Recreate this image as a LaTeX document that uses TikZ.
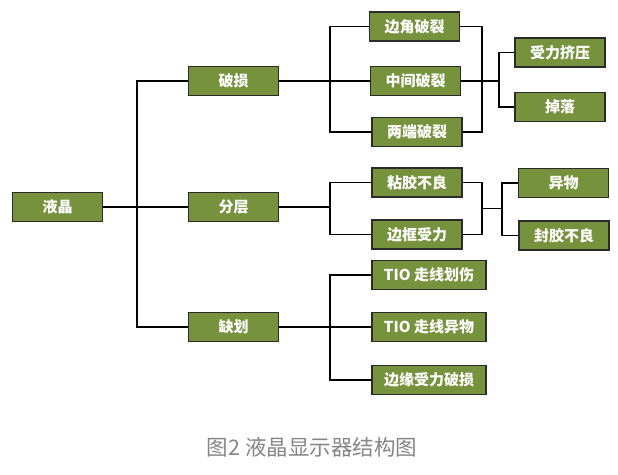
\documentclass[tikz,border=0pt]{standalone}
\usepackage{fontspec}
\setmainfont{Noto Sans CJK SC}
\usetikzlibrary{calc}
\definecolor{olivebox}{HTML}{76923C}
\definecolor{boxedge}{HTML}{2B2B2B}
\definecolor{capgray}{HTML}{858585}
\tikzset{
  box/.style={draw=boxedge, line width=1.4pt, fill=olivebox, text=white,
    font=\fontsize{15}{17}\selectfont\bfseries, inner sep=0pt,
    minimum width=90pt, minimum height=29pt},
  widebox/.style={box, minimum width=114pt},
  link/.style={line width=1.2pt, black},
}
\begin{document}
\begin{tikzpicture}[x=1pt,y=-1pt]
\useasboundingbox (0,0) rectangle (618,474);
% level one
\node[box] (yj) at (57.5,207) {液晶};
\node[box] (ps) at (233.5,81) {破损};
\node[box] (fc) at (233.5,207) {分层};
\node[box] (qh) at (233.5,327) {缺划};
% level two
\node[box] (bj) at (414.5,26.5) {边角破裂};
\node[box] (zj) at (415.5,81) {中间破裂};
\node[box] (ld) at (417,132) {两端破裂};
\node[box] (nj) at (417,182.5) {粘胶不良};
\node[box] (bk) at (417,234.5) {边框受力};
\node[widebox] (hs) at (429,275) {TIO 走线划伤};
\node[widebox] (xy) at (429,327) {TIO 走线异物};
\node[widebox] (by) at (429,380) {边缘受力破损};
% level three
\node[box] (sl) at (560,52.5) {受力挤压};
\node[box] (dl) at (560,107) {掉落};
\node[box] (yw) at (563.5,183) {异物};
\node[box] (fj) at (564,235.5) {封胶不良};
% bracket columns
\coordinate (c1) at (137,0);
\coordinate (c2) at (330,0);
\coordinate (c3) at (482,0);
\coordinate (c4) at (499,0);
\coordinate (c5) at (502,0);
\coordinate (m2) at ($(nj.east)!.5!(bk.east)$);
% connectors
\begin{scope}[link]
\draw (yj.east) -- (fc.west);
\draw (ps.west) -| (c1 |- qh.west) -- (qh.west);
\draw (ps.east) -- (zj.west);
\draw (bj.west) -| (c2 |- ld.west) -- (ld.west);
\draw (bj.east) -| (c3 |- ld.east) -- (ld.east);
\draw (zj.east) -- (c4 |- zj.east);
\draw (sl.west) -| (c4 |- dl.west) -- (dl.west);
\draw (fc.east) -- (c2 |- fc.east);
\draw (nj.west) -| (c2 |- bk.west) -- (bk.west);
\draw (nj.east) -| (c3 |- bk.east) -- (bk.east);
\draw (c3 |- m2) -- (c5 |- m2);
\draw (yw.west) -| (c5 |- fj.west) -- (fj.west);
\draw (qh.east) -- (xy.west);
\draw (hs.west) -| (c2 |- by.west) -- (by.west);
\end{scope}
% caption
\node[text=capgray, font=\fontsize{21.5}{25}\selectfont] (cap) at (312,447) {图2 液晶显示器结构图};
\end{tikzpicture}
\end{document}
